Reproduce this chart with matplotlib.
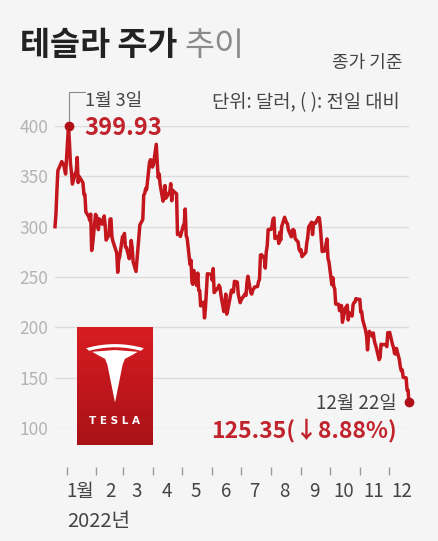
import numpy as np
import matplotlib
matplotlib.use("Agg")
import matplotlib.pyplot as plt
from matplotlib.patches import Polygon
from matplotlib.colors import LinearSegmentedColormap
import datetime as dt

plt.rcParams['font.family'] = ['Noto Sans CJK KR', 'DejaVu Sans']

# daily closes (split adjusted), 2021-12-20 .. 2022-12-22
dates = [
    "2021-12-20", "2021-12-21", "2021-12-22", "2021-12-23", "2021-12-27", "2021-12-28", "2021-12-29", "2021-12-30", "2021-12-31",
    "2022-01-03", "2022-01-04", "2022-01-05", "2022-01-06", "2022-01-07", "2022-01-10", "2022-01-11", "2022-01-12", "2022-01-13",
    "2022-01-14", "2022-01-18", "2022-01-19", "2022-01-20", "2022-01-21", "2022-01-24", "2022-01-25", "2022-01-26", "2022-01-27",
    "2022-01-28", "2022-01-31",
    "2022-02-01", "2022-02-02", "2022-02-03", "2022-02-04", "2022-02-07", "2022-02-08", "2022-02-09", "2022-02-10", "2022-02-11",
    "2022-02-14", "2022-02-15", "2022-02-16", "2022-02-17", "2022-02-18", "2022-02-22", "2022-02-23", "2022-02-24", "2022-02-25",
    "2022-02-28",
    "2022-03-01", "2022-03-02", "2022-03-03", "2022-03-04", "2022-03-07", "2022-03-08", "2022-03-09", "2022-03-10", "2022-03-11",
    "2022-03-14", "2022-03-15", "2022-03-16", "2022-03-17", "2022-03-18", "2022-03-21", "2022-03-22", "2022-03-23", "2022-03-24",
    "2022-03-25", "2022-03-28", "2022-03-29", "2022-03-30", "2022-03-31",
    "2022-04-01", "2022-04-04", "2022-04-05", "2022-04-06", "2022-04-07", "2022-04-08", "2022-04-11", "2022-04-12", "2022-04-13",
    "2022-04-14", "2022-04-18", "2022-04-19", "2022-04-20", "2022-04-21", "2022-04-22", "2022-04-25", "2022-04-26", "2022-04-27",
    "2022-04-28", "2022-04-29",
    "2022-05-02", "2022-05-03", "2022-05-04", "2022-05-05", "2022-05-06", "2022-05-09", "2022-05-10", "2022-05-11", "2022-05-12",
    "2022-05-13", "2022-05-16", "2022-05-17", "2022-05-18", "2022-05-19", "2022-05-20", "2022-05-23", "2022-05-24", "2022-05-25",
    "2022-05-26", "2022-05-27", "2022-05-31",
    "2022-06-01", "2022-06-02", "2022-06-03", "2022-06-06", "2022-06-07", "2022-06-08", "2022-06-09", "2022-06-10", "2022-06-13",
    "2022-06-14", "2022-06-15", "2022-06-16", "2022-06-17", "2022-06-21", "2022-06-22", "2022-06-23", "2022-06-24", "2022-06-27",
    "2022-06-28", "2022-06-29", "2022-06-30",
    "2022-07-01", "2022-07-05", "2022-07-06", "2022-07-07", "2022-07-08", "2022-07-11", "2022-07-12", "2022-07-13", "2022-07-14",
    "2022-07-15", "2022-07-18", "2022-07-19", "2022-07-20", "2022-07-21", "2022-07-22", "2022-07-25", "2022-07-26", "2022-07-27",
    "2022-07-28", "2022-07-29",
    "2022-08-01", "2022-08-02", "2022-08-03", "2022-08-04", "2022-08-05", "2022-08-08", "2022-08-09", "2022-08-10", "2022-08-11",
    "2022-08-12", "2022-08-15", "2022-08-16", "2022-08-17", "2022-08-18", "2022-08-19", "2022-08-22", "2022-08-23", "2022-08-24",
    "2022-08-25", "2022-08-26", "2022-08-29", "2022-08-30", "2022-08-31",
    "2022-09-01", "2022-09-02", "2022-09-06", "2022-09-07", "2022-09-08", "2022-09-09", "2022-09-12", "2022-09-13", "2022-09-14",
    "2022-09-15", "2022-09-16", "2022-09-19", "2022-09-20", "2022-09-21", "2022-09-22", "2022-09-23", "2022-09-26", "2022-09-27",
    "2022-09-28", "2022-09-29", "2022-09-30",
    "2022-10-03", "2022-10-04", "2022-10-05", "2022-10-06", "2022-10-07", "2022-10-10", "2022-10-11", "2022-10-12", "2022-10-13",
    "2022-10-14", "2022-10-17", "2022-10-18", "2022-10-19", "2022-10-20", "2022-10-21", "2022-10-24", "2022-10-25", "2022-10-26",
    "2022-10-27", "2022-10-28", "2022-10-31",
    "2022-11-01", "2022-11-02", "2022-11-03", "2022-11-04", "2022-11-07", "2022-11-08", "2022-11-09", "2022-11-10", "2022-11-11",
    "2022-11-14", "2022-11-15", "2022-11-16", "2022-11-17", "2022-11-18", "2022-11-21", "2022-11-22", "2022-11-23", "2022-11-25",
    "2022-11-28", "2022-11-29", "2022-11-30",
    "2022-12-01", "2022-12-02", "2022-12-05", "2022-12-06", "2022-12-07", "2022-12-08", "2022-12-09", "2022-12-12", "2022-12-13",
    "2022-12-14", "2022-12-15", "2022-12-16", "2022-12-19", "2022-12-20", "2022-12-21", "2022-12-22",
]
close = [
    299.98, 312.84, 336.29, 355.67, 364.65, 362.82, 362.06, 356.78, 352.26,
    399.93, 383.20, 362.71, 354.90, 342.32, 352.71, 354.80, 368.74, 343.85,
    349.87, 343.50, 331.88, 332.09, 314.63, 310.00, 306.13, 312.47, 276.37,
    282.12, 312.24,
    310.42, 301.89, 297.05, 307.77, 302.45, 307.33, 310.67, 301.52, 286.67,
    291.92, 307.48, 307.80, 290.12, 285.66, 273.84, 254.68, 266.92, 269.96,
    290.14,
    288.12, 293.30, 279.76, 279.43, 268.19, 274.80, 286.32, 279.43, 265.12,
    255.46, 267.30, 279.94, 290.53, 301.80, 307.05, 331.33, 332.99, 337.97,
    336.88, 363.95, 366.52, 364.66, 359.20,
    361.53, 381.82, 363.75, 348.59, 352.42, 341.83, 325.31, 328.98, 340.79,
    328.33, 334.76, 342.72, 325.73, 336.26, 335.02, 332.67, 292.14, 293.84,
    292.50, 290.25,
    300.98, 303.08, 317.54, 291.09, 288.55, 262.37, 266.68, 244.67, 242.67,
    256.53, 241.46, 253.87, 236.60, 236.47, 221.30, 224.97, 209.39, 219.60,
    235.91, 253.21, 252.75,
    246.79, 258.33, 234.52, 238.28, 238.89, 241.87, 239.71, 232.23, 215.74,
    220.89, 233.00, 213.10, 216.76, 237.04, 236.09, 235.07, 245.71, 244.92,
    232.66, 228.49, 224.47,
    227.26, 233.07, 231.73, 244.54, 250.76, 234.34, 233.07, 237.04, 238.31,
    240.07, 240.55, 245.53, 247.50, 271.71, 272.24, 268.43, 258.86, 274.82,
    280.90, 297.15,
    297.28, 300.59, 307.40, 308.63, 288.17, 290.42, 283.33, 294.36, 286.63,
    300.03, 309.32, 306.56, 303.99, 302.87, 296.67, 289.91, 296.45, 297.10,
    296.07, 288.09, 284.82, 277.70, 275.61,
    277.16, 270.21, 274.42, 283.70, 289.26, 299.68, 304.42, 292.13, 302.61,
    303.75, 303.35, 309.07, 308.73, 300.80, 288.59, 275.33, 276.01, 282.94,
    287.81, 268.21, 265.25,
    242.40, 249.44, 240.81, 238.13, 223.07, 222.96, 216.50, 217.24, 221.72,
    204.99, 219.35, 220.19, 222.04, 207.28, 214.44, 211.25, 222.42, 224.64,
    225.09, 228.52, 227.54,
    227.82, 214.98, 215.31, 207.47, 197.08, 191.30, 177.59, 190.72, 195.97,
    190.95, 194.42, 186.92, 183.17, 180.19, 167.87, 169.91, 183.20, 182.86,
    182.92, 180.83, 194.70,
    194.70, 194.86, 182.45, 179.82, 174.04, 173.44, 179.05, 167.82, 160.95,
    156.80, 157.67, 150.23, 149.87, 137.80, 137.57, 125.35,
]
y_ticks = [100, 150, 200, 250, 300, 350, 400]
month_labels = ["1월", "2", "3", "4", "5", "6", "7", "8", "9", "10", "11", "12"]

W, H = 439, 541
BG = "#f5f5f5"
RED = "#c3161d"
TXT_RED = "#c0232b"

x = [dt.datetime.strptime(d, "%Y-%m-%d") for d in dates]

fig = plt.figure(figsize=(W / 100, H / 100), dpi=100, facecolor=BG)

def px(xp, yp):
    return xp / W, 1 - yp / H

ax = fig.add_axes([55 / W, 1 - 428 / H, (409 - 55) / W, 302 / H], facecolor=BG)
ax.set_xlim(x[0], x[-1])
ax.set_ylim(100, 400)
for s in ax.spines.values():
    s.set_visible(False)
ax.spines['bottom'].set_position(('outward', 28))

ax.set_yticks(y_ticks)
ax.yaxis.grid(True, color="#dcdcdc", lw=1)
ax.set_axisbelow(True)
ax.tick_params(axis='y', length=0, pad=5, labelsize=12.5, labelcolor="#b3b3b3")

month_starts = [dt.datetime(2022, m, 1) for m in range(1, 13)]
month_mids = [dt.datetime(2022, m, 15) for m in range(1, 13)]
ax.set_xticks(month_starts)
ax.set_xticklabels([])
ax.set_xticks(month_mids, minor=True)
ax.set_xticklabels(month_labels, minor=True)
ax.tick_params(axis='x', which='major', length=6, width=1, color="#9a9a9a", direction='out')
ax.tick_params(axis='x', which='minor', length=0, pad=10, labelsize=13.5, labelcolor="#444444")

ax.plot(x, close, color=RED, lw=2.5, solid_joinstyle='round', clip_on=False, zorder=3)

# start / end markers
peak_i = int(np.argmax(close))
ax.plot([x[peak_i]], [close[peak_i]], 'o', color="#b01018", ms=6, clip_on=False, zorder=4)
ax.plot([x[-1]], [close[-1]], 'o', color="#b01018", ms=6, clip_on=False, zorder=4)
ax.plot([x[peak_i], x[peak_i], x[peak_i] + dt.timedelta(days=17)], [close[peak_i], 434, 434],
        color="#8a8a8a", lw=0.8, clip_on=False, zorder=2)

fig.text(*px(85, 101), "1월 3일", fontsize=13, color="#444444", ha='left', va='center')
fig.text(*px(84, 128), "399.93", fontsize=17, fontweight='bold', color=TXT_RED, ha='left', va='center')
fig.text(*px(397, 404), "12월 22일", fontsize=13.5, color="#444444", ha='right', va='center')
fig.text(*px(397, 431), "125.35(↓8.88%)", fontsize=16.5, fontweight='bold', color=TXT_RED,
         ha='right', va='center')

# header
fig.text(*px(20, 46), "테슬라 주가", fontsize=23.5, fontweight='bold', color="#222222", ha='left', va='center')
fig.text(*px(184, 46), "추이", fontsize=23.5, fontweight='light', color="#8a8a8a", ha='left', va='center')
fig.text(*px(403, 63), "종가 기준", fontsize=13, color="#444444", ha='right', va='center')
fig.text(*px(400, 103), "단위: 달러, ( ): 전일 대비", fontsize=13.5, color="#444444", ha='right', va='center')
fig.text(*px(67, 521), "2022년", fontsize=14.5, color="#444444", ha='left', va='center')

# tesla logo
lax = fig.add_axes([77 / W, 1 - 445 / H, 76 / W, 118 / H])
cmap = LinearSegmentedColormap.from_list("logo", ["#d81c22", "#a81217"])
lax.imshow(np.linspace(0, 1, 100).reshape(-1, 1), cmap=cmap, aspect='auto', extent=[0, 1, 0, 1])
lax.set_xlim(0, 1)
lax.set_ylim(0, 1)
lax.axis('off')
t = np.linspace(-1, 1, 40)
top_outer = np.column_stack([0.5 + 0.38 * t, 0.855 - 0.035 * t ** 2])
top_inner = np.column_stack([0.5 - 0.34 * t, 0.828 - 0.03 * t ** 2])
lax.add_patch(Polygon(np.vstack([top_outer, top_inner]), closed=True, fc="white", ec="none"))
body = [(0.2, 0.79), (0.5, 0.805), (0.8, 0.79), (0.72, 0.76), (0.63, 0.73), (0.6, 0.68),
        (0.5, 0.36), (0.4, 0.68), (0.37, 0.73), (0.28, 0.76)]
lax.add_patch(Polygon(body, closed=True, fc="white", ec="none"))
lax.text(0.5, 0.2, "T E S L A", fontsize=7.5, fontweight='bold', color="white", ha='center', va='center',
         family='DejaVu Sans')

fig.savefig("out.png", dpi=100, facecolor=BG)
